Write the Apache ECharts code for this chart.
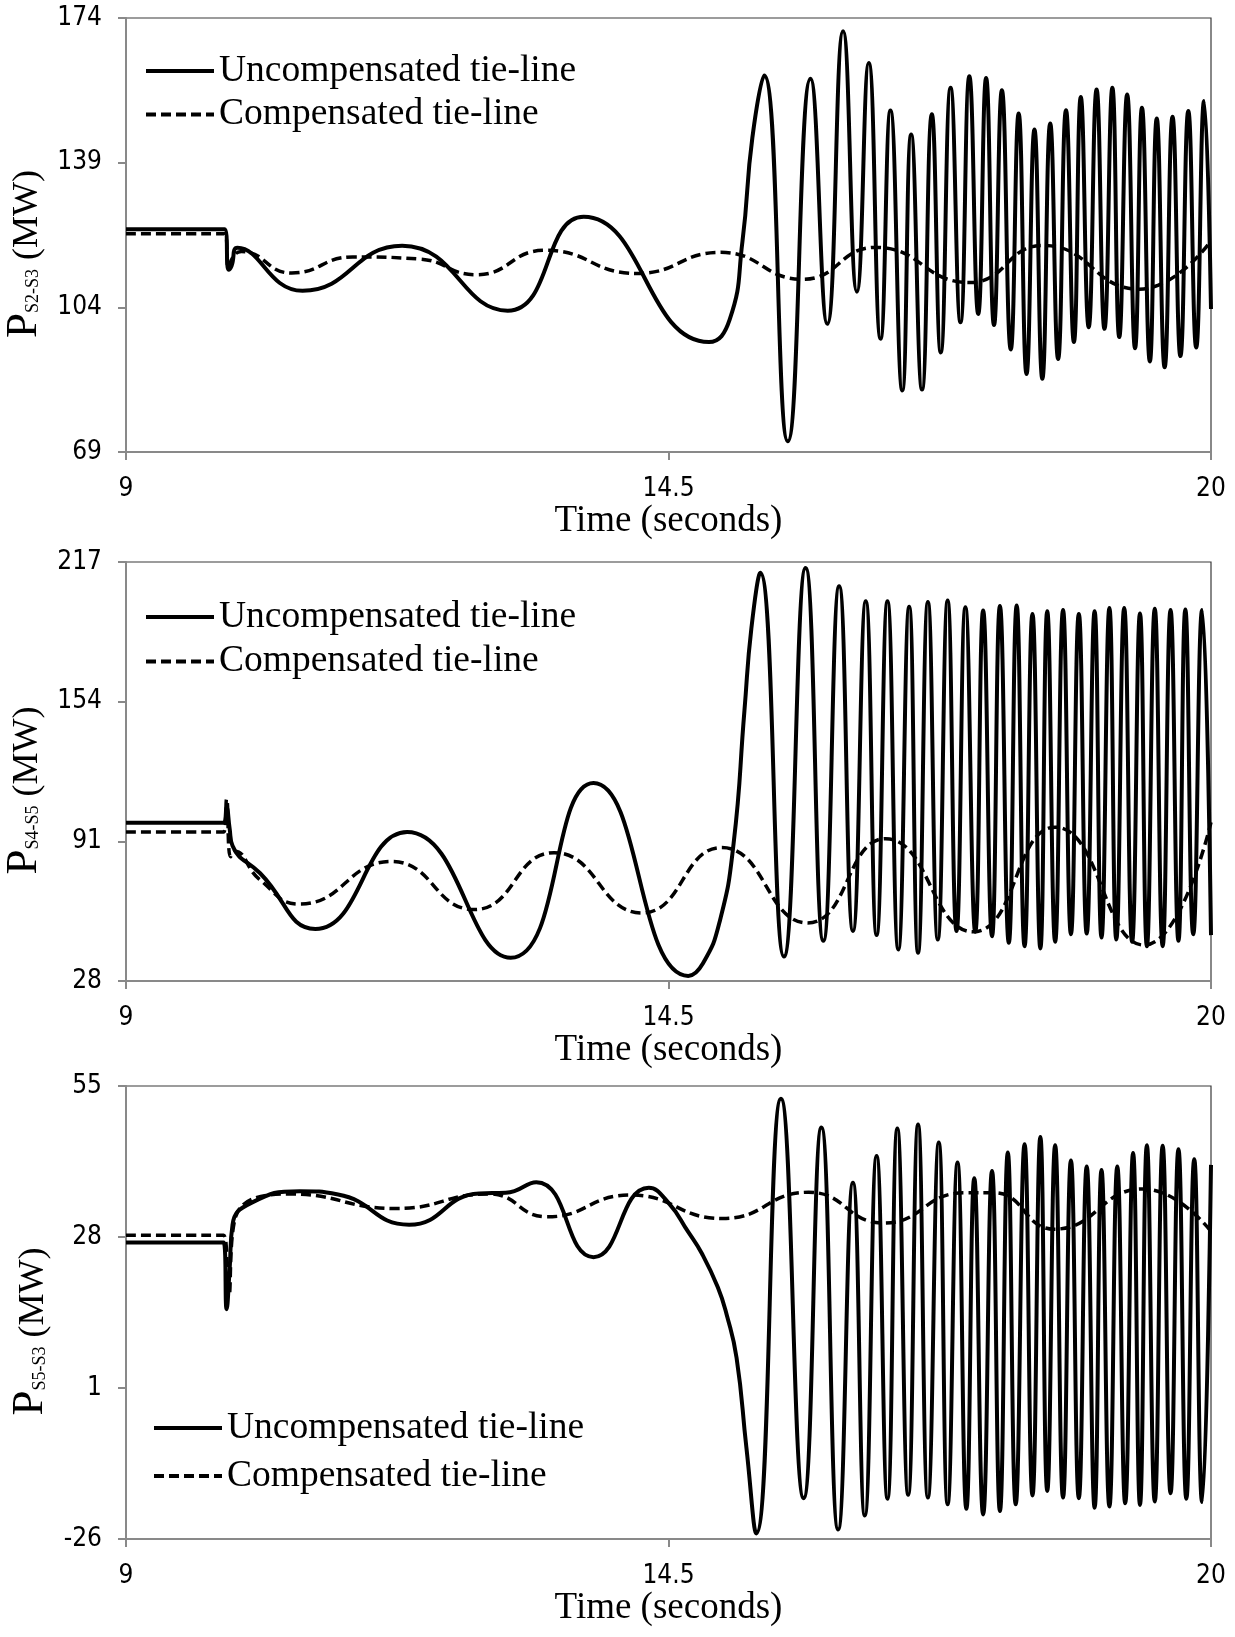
<!DOCTYPE html>
<html>
<head>
<meta charset="utf-8">
<title>Tie-line power flows</title>
<script src="https://cdn.jsdelivr.net/npm/echarts@6/dist/echarts.min.js"></script>
<style>
  html, body { margin: 0; padding: 0; background: #fff; }
  #chart { width: 1235px; height: 1637px; }
</style>
</head>
<body>
<div id="chart"></div>
<script>
// values: [time (s), power (MW)]
var xTicks = [9, 14.5, 20]

var s23Ticks = [69, 104, 139, 174]
var s23Uncomp = [
  [9, 122.9], [10.0, 122.9], [10.04, 113.1], [10.07, 114], [10.13, 118.4], [10.79, 108],
  [11.8, 118.9], [12.87, 103.2], [13.64, 125.9], [14.91, 95.6], [15.12, 101], [15.25, 120],
  [15.35, 145], [15.47, 160.1], [15.71, 71.6], [15.94, 159.3], [16.11, 100], [16.27, 170.8],
  [16.41, 107.8], [16.53, 163.1], [16.65, 96.4], [16.75, 151.6], [16.87, 83.9], [16.96, 145.8],
  [17.07, 84.1], [17.17, 150.7], [17.26, 93.1], [17.36, 157.1], [17.46, 100.4], [17.55, 159.9],
  [17.64, 102.4], [17.72, 159.5], [17.8, 99.7], [17.88, 156.5], [17.97, 93.8], [18.05, 150.9],
  [18.13, 87.9], [18.21, 147], [18.29, 86.7], [18.37, 148.5], [18.45, 91.5], [18.53, 151.7],
  [18.61, 95.6], [18.68, 154.9], [18.76, 99.2], [18.84, 156.7], [18.92, 98.8], [19.0, 157.1],
  [19.07, 96.8], [19.15, 155.5], [19.23, 94.1], [19.3, 152.3], [19.38, 90.9], [19.45, 149.7],
  [19.53, 89.5], [19.61, 150.1], [19.69, 92.2], [19.77, 151.5], [19.85, 94.3], [19.93, 153.9],
  [20, 103.6]
]
var s23Comp = [
  [9, 121.8], [10.0, 121.8], [10.04, 113.5], [10.08, 116], [10.17, 117.5], [10.68, 112.3],
  [11.3, 116.2], [11.97, 115.7], [12.55, 111.9], [13.25, 117.8], [14.18, 112.2], [15.03, 117.3],
  [15.86, 110.8], [16.6, 118.5], [17.55, 110], [18.3, 119], [19.27, 108.4], [20, 120.1]
]

var s45Ticks = [28, 91, 154, 217]
var s45Uncomp = [
  [9, 99.4], [9.99, 99.4], [10.02, 106], [10.05, 97], [10.08, 89], [10.36, 76.6],
  [10.92, 51.5], [11.85, 95.2], [12.9, 38.5], [13.74, 117.3], [14.7, 30.3], [14.85, 36],
  [15.02, 55], [15.16, 90], [15.27, 150], [15.34, 187], [15.43, 212.1], [15.67, 39],
  [15.89, 214.3], [16.07, 46.1], [16.23, 206.1], [16.37, 50.6], [16.5, 199.3], [16.61, 48.7],
  [16.72, 199.3], [16.83, 42.2], [16.94, 196.8], [17.03, 40.7], [17.13, 199], [17.23, 46.7],
  [17.33, 199.6], [17.42, 50.5], [17.51, 196.6], [17.61, 50.2], [17.69, 195.1], [17.78, 48.2],
  [17.86, 197.1], [17.95, 45.2], [18.03, 197.4], [18.11, 43.7], [18.19, 193.6], [18.27, 42.7],
  [18.34, 194.8], [18.42, 45.7], [18.5, 195.3], [18.58, 49.1], [18.66, 193.6], [18.74, 49.4],
  [18.82, 194.8], [18.89, 47.6], [18.97, 196.3], [19.04, 46.7], [19.12, 196.3], [19.2, 45.7],
  [19.28, 193.8], [19.35, 43.7], [19.43, 195.9], [19.51, 43.7], [19.59, 195.3], [19.67, 46.1],
  [19.74, 195.6], [19.82, 49.1], [19.91, 195.3], [20, 48.7]
]
var s45Comp = [
  [9, 95.2], [9.99, 95.2], [10.02, 110], [10.06, 84], [10.1, 86.5], [10.35, 74],
  [10.76, 62.7], [11.69, 81.9], [12.53, 60.2], [13.34, 85.9], [14.23, 58.7], [15.04, 88.2],
  [15.91, 54.2], [16.7, 92.2], [17.59, 50.2], [18.42, 97.4], [19.32, 44.2], [20, 99.6]
]

var s53Ticks = [-26, 1, 28, 55]
var s53Uncomp = [
  [9, 27], [9.99, 27], [10.02, 15.1], [10.05, 22], [10.08, 30.2], [10.27, 34.1],
  [10.76, 36.2], [11.15, 35.6], [11.87, 30.2], [12.58, 35.8], [12.85, 35.9], [13.16, 37.8],
  [13.74, 24.4], [14.3, 36.8], [14.5, 34.1], [14.7, 28.9], [14.84, 25], [15.0, 19],
  [15.09, 14.1], [15.19, 6.4], [15.29, -9.7], [15.39, -25], [15.64, 52.7], [15.87, -18.7],
  [16.05, 47.6], [16.22, -24.3], [16.37, 37.7], [16.49, -21.8], [16.61, 42.5], [16.72, -18.8],
  [16.82, 47.4], [16.93, -18.1], [17.03, 48.1], [17.13, -18.6], [17.24, 44.9], [17.33, -19.8],
  [17.43, 41.3], [17.52, -20.6], [17.6, 38.5], [17.69, -21.6], [17.78, 39.8], [17.86, -21],
  [17.94, 43.1], [18.02, -19.8], [18.11, 44.6], [18.19, -18.2], [18.27, 45.9], [18.34, -17.4],
  [18.42, 44.4], [18.5, -18.6], [18.58, 41.7], [18.66, -18.7], [18.74, 40.6], [18.82, -20.4],
  [18.89, 40], [18.97, -20.2], [19.05, 40.6], [19.13, -19.6], [19.21, 43], [19.28, -19.9],
  [19.35, 44.4], [19.43, -19.3], [19.51, 44.3], [19.59, -17.8], [19.67, 43.7], [19.75, -18.8],
  [19.83, 41.9], [19.91, -19.4], [20, 40.9]
]
var s53Comp = [
  [9, 28.3], [9.99, 28.3], [10.04, 17.3], [10.1, 30.9], [10.66, 35.7], [11.74, 33.1],
  [12.68, 35.7], [13.27, 31.6], [14.11, 35.5], [15.05, 31.3], [15.92, 36], [16.68, 30.5],
  [17.5, 35.9], [17.8, 35.9], [18.41, 29.4], [19.31, 36.6], [20, 29]
]

var legendNames = ['Uncompensated tie-line', 'Compensated tie-line']

var serif = "'Liberation Serif', 'Times New Roman', serif"
var narrow = "'Liberation Sans Narrow', 'DejaVu Sans Condensed', sans-serif"

var panels = [
  { sub: 'S2-S3', ticks: s23Ticks, uncomp: s23Uncomp, comp: s23Comp,
    top: 18, height: 434, legendTop: 52, legendLeft: 144, legendGap: 5.5 },
  { sub: 'S4-S5', ticks: s45Ticks, uncomp: s45Uncomp, comp: s45Comp,
    top: 562, height: 419, legendTop: 598, legendLeft: 144, legendGap: 6.5 },
  { sub: 'S5-S3', ticks: s53Ticks, uncomp: s53Uncomp, comp: s53Comp,
    top: 1086, height: 453, legendTop: 1409, legendLeft: 152, legendGap: 10 },
]

var axisGray = '#898989'

var grid = []
var xAxis = []
var yAxis = []
var series = []
var legend = []

panels.forEach(function (p, i) {
  grid.push({
    left: 126,
    right: 24,
    top: p.top,
    height: p.height,
    show: true,
    borderColor: '#3a3a3a',
    borderWidth: 1.2,
    outerBoundsMode: 'none',
  })
  xAxis.push({
    type: 'value',
    gridIndex: i,
    min: xTicks[0],
    max: xTicks[xTicks.length - 1],
    splitLine: { show: false },
    axisLine: { show: true, onZero: false, lineStyle: { color: axisGray, width: 2 } },
    axisTick: { show: true, length: 8, customValues: xTicks, lineStyle: { color: axisGray, width: 2 } },
    axisLabel: {
      customValues: xTicks,
      margin: 24,
      color: '#000',
      fontFamily: narrow,
      fontSize: 26,
    },
    name: 'Time (seconds)',
    nameLocation: 'middle',
    nameGap: 51,
    nameTextStyle: { color: '#000', fontFamily: serif, fontSize: 37 },
  })
  yAxis.push({
    type: 'value',
    gridIndex: i,
    min: p.ticks[0],
    max: p.ticks[p.ticks.length - 1],
    splitLine: { show: false },
    axisLine: { show: true, onZero: false, lineStyle: { color: axisGray, width: 2 } },
    axisTick: { show: true, length: 8, customValues: p.ticks, lineStyle: { color: axisGray, width: 2 } },
    axisLabel: {
      customValues: p.ticks,
      margin: 24,
      color: '#000',
      fontFamily: narrow,
      fontSize: 26,
    },
    name: '{p|P}{s|' + p.sub + '}{u| (MW)}',
    nameLocation: 'middle',
    nameRotate: 90,
    nameGap: 69,
    nameTextStyle: {
      color: '#000',
      fontFamily: serif,
      rich: {
        p: { fontFamily: serif, fontSize: 45, lineHeight: 45, color: '#000', verticalAlign: 'bottom' },
        s: { fontFamily: serif, fontSize: 18, lineHeight: 18, color: '#000', verticalAlign: 'bottom', padding: [0, 0, 4, 0] },
        u: { fontFamily: serif, fontSize: 36, lineHeight: 36, color: '#000', verticalAlign: 'bottom', padding: [0, 38, 1, 0] },
      },
    },
  })
  series.push({
    name: legendNames[0],
    type: 'line',
    xAxisIndex: i,
    yAxisIndex: i,
    data: p.uncomp,
    symbol: 'none',
    smooth: 0.5,
    lineStyle: { color: '#000', width: 4, type: 'solid' },
    itemStyle: { color: '#000' },
    z: 3,
  })
  series.push({
    name: legendNames[1],
    type: 'line',
    xAxisIndex: i,
    yAxisIndex: i,
    data: p.comp,
    symbol: 'none',
    smooth: 0.5,
    lineStyle: { color: '#000', width: 3.5, type: [10, 5] },
    itemStyle: { color: '#000' },
    z: 2,
  })
  legend.push({
    data: legendNames,
    orient: 'vertical',
    left: p.legendLeft,
    top: p.legendTop,
    itemWidth: 68,
    itemHeight: 12,
    itemGap: p.legendGap,
    padding: 0,
    selectedMode: false,
    itemStyle: { opacity: 0, borderWidth: 0 },
    lineStyle: { width: 4 },
    textStyle: { color: '#000', fontFamily: serif, fontSize: 37.5 },
  })
})

var chart = echarts.init(document.getElementById('chart'))
chart.setOption({
  animation: false,
  backgroundColor: '#fff',
  grid: grid,
  xAxis: xAxis,
  yAxis: yAxis,
  legend: legend,
  series: series,
})
</script>
</body>
</html>
